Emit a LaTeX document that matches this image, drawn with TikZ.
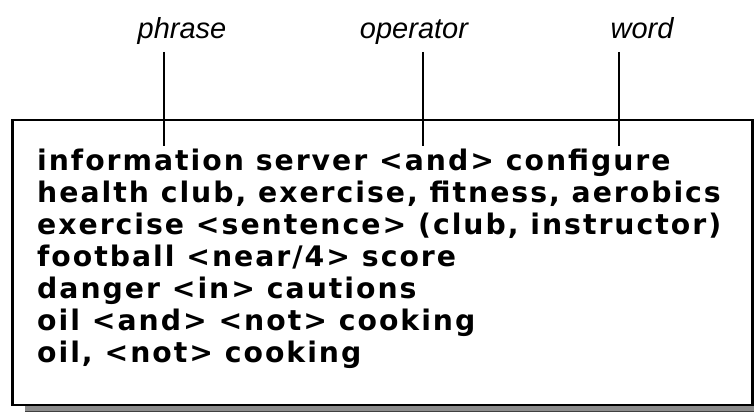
\documentclass[tikz,border=0pt]{standalone}
\usepackage{fontspec}
\setmainfont{Lato}
\newfontfamily\qfont[LetterSpace=7]{DejaVu Sans}
\newfontfamily\labelfont{Liberation Sans}
\begin{document}
\begin{tikzpicture}[x=1pt,y=-1pt,
  qline/.style={font=\qfont\fontsize{28.3}{32}\selectfont\bfseries, anchor=base west, inner sep=0pt},
  qlabel/.style={font=\labelfont\fontsize{29}{32}\selectfont\itshape, anchor=base, inner sep=0pt},
  tick/.style={line width=1.6pt},
  frame/.style={draw=black, line width=2.6pt, fill=white}]
\useasboundingbox (0,0) rectangle (754,412);
% shadow
\fill[black!45] (25,404) rectangle (754,412);
\draw[black!75, line width=0.8pt] (25,411.6) -- (754,411.6);
% box
\node[frame, minimum width=740pt, minimum height=285pt, inner sep=0pt, anchor=north west] (box) at (11,118.5) {};
% labels
\node[qlabel] (phrase) at (182,38) {phrase};
\node[qlabel] (operator) at (414,38) {operator};
\node[qlabel] (word) at (642,38) {word};
\coordinate (pt) at (164,52); \coordinate (pb) at (164,146);
\coordinate (ot) at (423,52); \coordinate (ob) at (423,146);
\coordinate (wt) at (619,52); \coordinate (wb) at (619,146);
\draw[tick] (pt) -- (pb);
\draw[tick] (ot) -- (ob);
\draw[tick] (wt) -- (wb);
% query lines
\node[qline] (l1) at (37,170) {information server <and> configure};
\node[qline] (l2) at (37,202) {health club, exercise, fitness, aerobics};
\node[qline] (l3) at (37,234) {exercise <sentence> (club, instructor)};
\node[qline] (l4) at (37,266) {football <near/4> score};
\node[qline] (l5) at (37,298) {danger <in> cautions};
\node[qline] (l6) at (37,330) {oil <and> <not> cooking};
\node[qline] (l7) at (37,362) {oil, <not> cooking};
\end{tikzpicture}
\end{document}
